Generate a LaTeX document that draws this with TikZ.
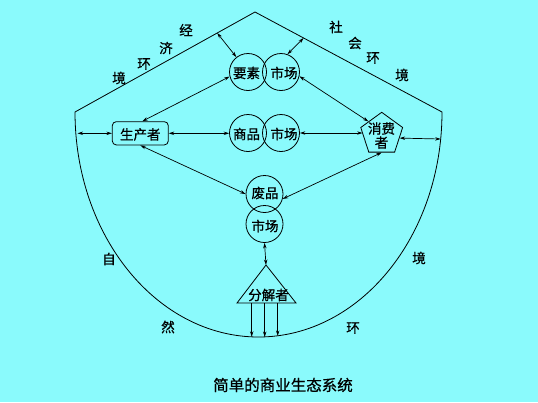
\documentclass[tikz,border=0pt]{standalone}
\usepackage{fontspec}
\setmainfont{Noto Sans CJK SC}[FakeBold=0.8]
\usetikzlibrary{arrows.meta,shapes.geometric,calc}
\definecolor{bg}{RGB}{138,250,252}
\tikzset{
  ln/.style={line width=0.8pt,black},
  dbl/.style={line width=0.7pt,{Stealth[length=5.5pt,width=3.4pt]}-{Stealth[length=5.5pt,width=3.4pt]}},
  one/.style={line width=0.7pt,-{Stealth[length=5.5pt,width=3.4pt]}},
  ring/.style={circle,draw,line width=0.8pt,minimum size=37pt,inner sep=0pt},
  txt/.style={font=\fontsize{13.5}{15}\selectfont,inner sep=0pt},
  envtxt/.style={font=\fontsize{13.5}{15}\selectfont,inner sep=0pt},
}
\begin{document}
\begin{tikzpicture}[x=1pt,y=-1pt]
\path[fill=bg,use as bounding box] (0,0) rectangle (538,402);
% outer environment boundary
\coordinate (L) at (75,112);
\coordinate (A) at (255,12);
\coordinate (R) at (442,112);
\draw[ln,line join=miter] (L) -- (A) -- (R) arc[start angle=0,end angle=-180,x radius=183.5pt,y radius=225pt] -- cycle;
\coordinate (econ) at ($(L)!0.79!(A)$);
\coordinate (soc) at ($(A)!0.26!(R)$);
\coordinate (lb) at (77.5,133.3);
\coordinate (rb) at (440.7,139);
% environment labels
\node[envtxt] (e1) at (186,30) {经};
\node[envtxt] (e2) at (166,48) {济};
\node[envtxt] (e3) at (144,64) {环};
\node[envtxt] (e4) at (119,78) {境};
\node[envtxt] (s1) at (336,27) {社};
\node[envtxt] (s2) at (355,43) {会};
\node[envtxt] (s3) at (373,58) {环};
\node[envtxt] (s4) at (402,75) {境};
\node[envtxt] (n1) at (109,259) {自};
\node[envtxt] (n2) at (168,327) {然};
\node[envtxt] (n3) at (353,328) {环};
\node[envtxt] (n4) at (419,258) {境};
% factor market
\node[ring] (yao) at (248,72) {};
\node[ring] (shi1) at (281,72) {};
\node[txt] (yaot) at (246.5,73) {要素};
\node[txt] (shi1t) at (284,73) {市场};
% goods market
\node[ring] (shang) at (248,133) {};
\node[ring] (shi2) at (281,133) {};
\node[txt] (shangt) at (246.5,134) {商品};
\node[txt] (shi2t) at (284,134) {市场};
% waste market
\node[ring] (fei) at (264.5,194) {};
\node[ring] (shi3) at (264.5,224) {};
\node[txt] (feit) at (265,193) {废品};
\node[txt] (shi3t) at (265,226) {市场};
% producer
\node[draw,line width=0.8pt,rounded corners=4pt,minimum width=56pt,minimum height=23.3pt,inner sep=0pt] (prod) at (140.3,133.3) {};
\node[txt] (prodt) at (140.3,134.5) {生产者};
% consumer
\node[regular polygon,regular polygon sides=5,draw,line width=0.8pt,minimum size=44pt,inner sep=0pt] (cons) at (381.7,134.3) {};
\node[txt,align=center] (const) at (381.5,135.5) {消费\\[-1pt]者};
% decomposer
\coordinate (tA) at (266,265);
\coordinate (tL) at (237,303);
\coordinate (tR) at (296,303);
\draw[ln,line join=miter] (tA) -- (tL) -- (tR) -- cycle;
\node[txt] (dec) at (268.5,295) {分解者};
\coordinate (b1) at (251.7,303);
\coordinate (b2) at (264.7,303);
\coordinate (b3) at (277.7,303);
\coordinate (g1) at (251.7,336.8);
\coordinate (g2) at (264.7,337);
\coordinate (g3) at (277.7,335.9);
\draw[one] (b1) -- (g1);
\draw[one] (b2) -- (g2);
\draw[one] (b3) -- (g3);
% connectors
\draw[dbl] (econ) -- (yao.128);
\draw[dbl] (soc) -- (shi1.70);
\draw[dbl] ([xshift=2pt]prod.north) -- (yao.194);
\draw[dbl] (shi1.-13) -- (cons.136);
\draw[dbl] (lb) -- (prod.west);
\draw[dbl] (prod.east) -- (prod.east -| shang.west);
\draw[dbl] (shi2.east) -- (shi2.east -| cons.west);
\draw[dbl] (cons.-12) -- (rb);
\draw[dbl] (prod.south) -- (fei.west);
\draw[dbl] (cons.south) -- (fei.-15);
\draw[dbl] (shi3.south) -- (tA);
% caption
\node[font=\fontsize{15.5}{17}\selectfont,inner sep=0pt] (cap) at (283,385) {简单的商业生态系统};
\end{tikzpicture}
\end{document}
